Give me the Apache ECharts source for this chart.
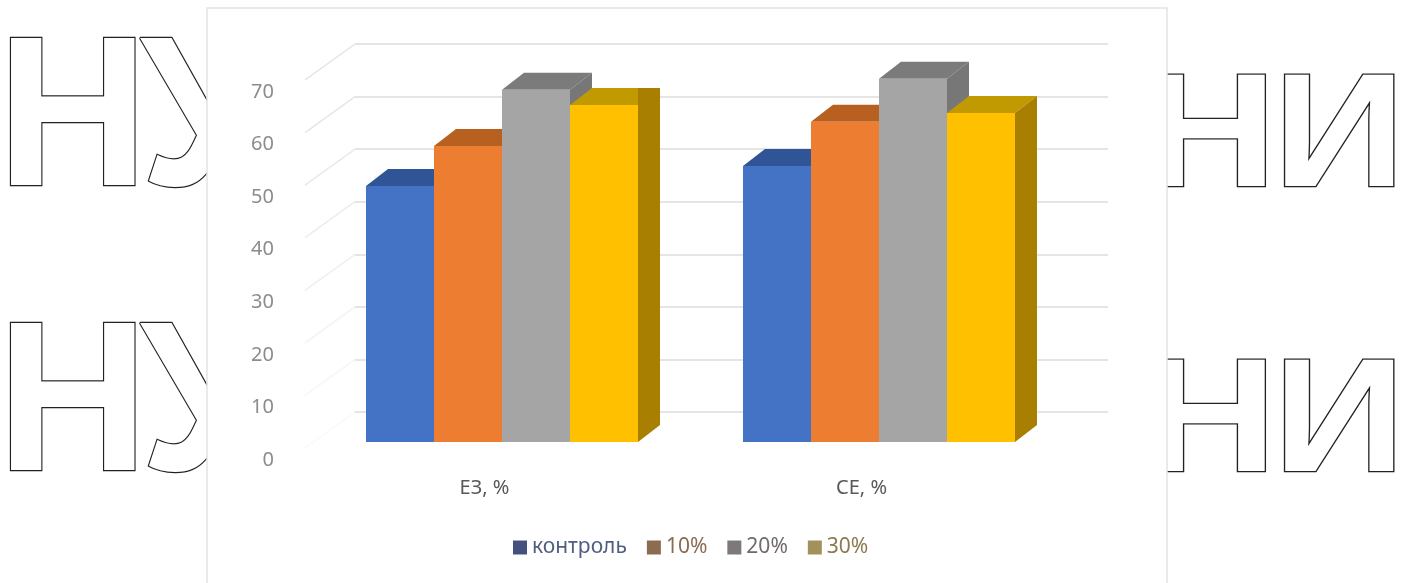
<!DOCTYPE html>
<html><head><meta charset="utf-8">
<style>html,body{margin:0;padding:0;background:#fff}#c{width:1406px;height:583px}</style>
<script src="https://cdn.jsdelivr.net/npm/echarts@6/dist/echarts.min.js"></script>
</head><body><div id="c"></div>
<script>
const categories = ['ЕЗ, %', 'СЕ, %'];
const tickValues = [0, 10, 20, 30, 40, 50, 60, 70];
const control = [48.7, 52.5];
const pct10 = [56.3, 60.9];
const pct20 = [67.0, 69.1];
const pct30 = [64.1, 62.6];

const depthX = 22, depthY = 17;
const barFraction = 68 / 377;
const seriesDefs = [
  {name:'контроль', values:control, offset:-1.5, front:'#4472c4', top:'#2f5597', side:'#2f5597', legend:'#44517f', text:'#505e80'},
  {name:'10%', values:pct10, offset:-0.5, front:'#ed7d31', top:'#b7601f', side:'#b7601f', legend:'#8d6b4e', text:'#8a6a50'},
  {name:'20%', values:pct20, offset:0.5, front:'#a5a5a5', top:'#7b7b7b', side:'#777777', legend:'#7f7878', text:'#716a6a'},
  {name:'30%', values:pct30, offset:1.5, front:'#ffc000', top:'#c09a00', side:'#a87f00', legend:'#a3915a', text:'#8a7a50'}
];

function barRenderer(def){
  return function(params, api){
    const i = api.value(0);
    const c = api.coord([i, api.value(1)]);
    const base = api.coord([i, 0]);
    const w = api.size([1, 0])[0] * barFraction;
    const x0 = c[0] + (def.offset - 0.5) * w, x1 = x0 + w, yT = c[1], yB = base[1];
    const squared = def.offset === 1.5 && i === 0;
    const sidePts = squared
      ? [[x1, yT - depthY], [x1 + depthX, yT - depthY], [x1 + depthX, yB - depthY], [x1, yB]]
      : [[x1, yT], [x1 + depthX, yT - depthY], [x1 + depthX, yB - depthY], [x1, yB]];
    return {type:'group', children:[
      {type:'polygon', shape:{points:[[x0, yT], [x0 + depthX, yT - depthY], [x1 + depthX, yT - depthY], [x1, yT]]}, style:{fill:def.top}},
      {type:'polygon', shape:{points:sidePts}, style:{fill:def.side}},
      {type:'rect', shape:{x:x0, y:yT, width:w, height:yB - yT}, style:{fill:def.front}}
    ]};
  };
}

const ink = '#222222';
function watermark(text, x, y, size, sx){
  return {type:'text', x:x, y:y, scaleX:sx, z:-2, silent:true,
    style:{text:text, x:0, y:0, fontFamily:'Liberation Sans', fontWeight:'bold', fontSize:size,
      fill:'#fff', stroke:ink, lineWidth:2.4, lineJoin:'round', verticalAlign:'bottom'}};
}

const chart = echarts.init(document.getElementById('c'), null, {renderer:'canvas'});
chart.setOption({
  animation:false,
  backgroundColor:'#fff',
  graphic:{elements:[
    watermark('Н', -3, 233, 214, 0.98),
    watermark('У', 140, 233, 214, 0.98),
    watermark('Н', -3, 518, 214, 0.98),
    watermark('У', 140, 518, 214, 0.98),
    watermark('Н', 1144, 222, 161, 1.145),
    watermark('И', 1273, 222, 161, 1.145),
    watermark('Н', 1144, 507, 161, 1.145),
    watermark('И', 1273, 507, 161, 1.145),
    {type:'rect', z:-1, silent:true, shape:{x:207, y:8, width:960, height:590},
     style:{fill:'#fff', stroke:'#e4e4e4', lineWidth:1.5}}
  ]},
  grid:[
    {left:313.5, width:754, top:74, height:368},
    {left:296, width:754, top:92, height:368},
    {left:355, width:753, top:44, height:368}
  ],
  xAxis:[
    {gridIndex:0, type:'category', data:categories, show:false},
    {gridIndex:1, type:'category', data:categories,
     axisLine:{show:false}, axisTick:{show:false}, axisLabel:{color:'#595959', fontFamily:'Noto Sans', fontSize:20, margin:18}},
    {gridIndex:2, type:'category', data:categories, show:false}
  ],
  yAxis:[
    {gridIndex:0, type:'value', min:0, max:70, interval:10, show:false},
    {gridIndex:1, type:'value', min:0, max:70, interval:10, splitLine:{show:false},
     axisLine:{show:false}, axisTick:{show:false}, axisLabel:{color:'#8c8c8c', fontFamily:'Noto Sans', fontSize:20, margin:22}},
    {gridIndex:2, type:'value', min:0, max:70, interval:10, axisLabel:{show:false}, axisLine:{show:false}, axisTick:{show:false},
     splitLine:{show:true, lineStyle:{color:'#dcdcdc', width:1.5}}}
  ],
  legend:{
    left:508, top:532, icon:'rect', itemWidth:14, itemHeight:14, itemGap:20, selectedMode:false,
    textStyle:{fontFamily:'Noto Sans', fontSize:21},
    data:seriesDefs.map(d => ({name:d.name, itemStyle:{color:d.legend}, textStyle:{color:d.text}}))
  },
  series:[
    {type:'custom', name:'walls', xAxisIndex:2, yAxisIndex:2, silent:true, z:1,
     data:tickValues.map(v => [0, v]),
     renderItem:function(p, api){
       const v = api.value(1);
       const c = api.coord([0, v]);
       const left = c[0] - api.size([1, 0])[0] / 2;
       return {type:'line', shape:{x1:left, y1:c[1], x2:left - 50, y2:c[1] + 36},
               style:{stroke:'#e0e0e0', lineWidth:1.5, opacity:0.2 + 0.7 * v / 70}};
     }},
    ...seriesDefs.map(d => ({
      type:'custom', name:d.name, xAxisIndex:0, yAxisIndex:0, z:3, silent:true,
      itemStyle:{color:d.legend},
      data:d.values.map((v, i) => [i, v]),
      encode:{x:0, y:1},
      renderItem:barRenderer(d)
    }))
  ]
});
</script></body></html>
